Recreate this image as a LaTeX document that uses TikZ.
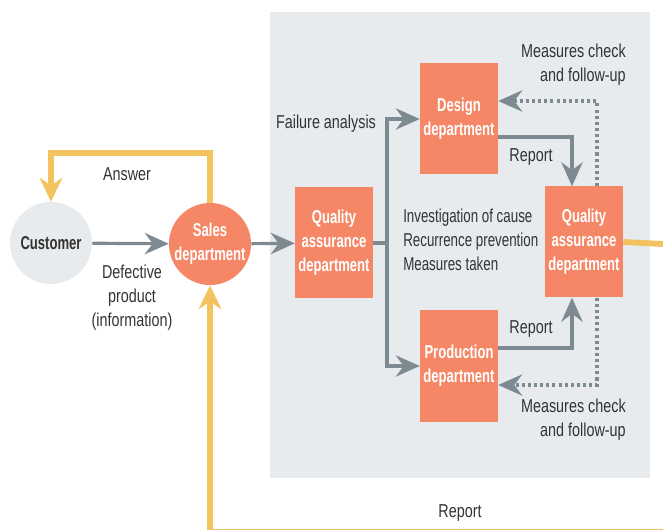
\documentclass[tikz,border=0pt]{standalone}
\usepackage{fontspec}
\setmainfont[FakeStretch=0.77]{Liberation Sans}
\newfontfamily\boxfont[FakeStretch=0.70]{Liberation Sans Bold}
\newfontfamily\narrowfont[FakeStretch=0.715]{Liberation Sans}
\usetikzlibrary{arrows.meta,calc}
\definecolor{panel}{HTML}{E8EBEE}
\definecolor{salmon}{HTML}{F58767}
\definecolor{ygold}{HTML}{F3C35F}
\definecolor{garr}{HTML}{7D8A91}
\definecolor{txt}{HTML}{333333}
\tikzset{
  lbl/.style={text=txt,font=\fontsize{14}{18}\selectfont,inner sep=0pt,align=center},
  bfnt/.style={font=\fontsize{14}{18}\selectfont\boxfont},
  dept/.style={fill=salmon,text=white,bfnt,align=center,
    minimum width=58.5pt,minimum height=83.25pt,inner sep=0pt},
  gtip/.style={-{Stealth[length=18pt,width=16pt,inset=6pt]}},
  gline/.style={draw=garr,line width=2.4pt},
  garrow/.style={gline,gtip},
  dotarrow/.style={draw=garr,line width=2.4pt,dash pattern=on 2.3pt off 2.3pt,gtip},
  yline/.style={draw=ygold,line width=4.4pt},
  yarrow/.style={yline,-{Stealth[length=18pt,width=17pt,inset=6pt]}},
}
\begin{document}
\begin{tikzpicture}[x=0.75pt,y=-0.75pt]
\useasboundingbox (0,0) rectangle (663,530);
\clip (0,0) rectangle (663,530);
\fill[panel] (270,12) rectangle (650,478);
% nodes
\node[circle,fill=panel,minimum size=61.5pt,inner sep=0pt,text=txt,bfnt] (cust) at (51,243) {Customer};
\node[circle,fill=salmon,minimum size=60.75pt,inner sep=0pt,text=white,align=center,bfnt] (sales) at (210,244) {Sales\\department};
\node[dept] (qa1) at (334,243) {Quality\\assurance\\department};
\node[dept] (design) at (459,119) {Design\\department};
\node[dept] (prod) at (459,366) {Production\\department};
\node[dept] (qa2) at (584,242) {Quality\\assurance\\department};
% coordinates
\coordinate (ans) at (128,153);
\coordinate (split) at (387,243);
\coordinate (bot) at (210,532);
\coordinate (botr) at (663,532);
\coordinate (rgt) at (663,244);
% connectors
\draw[garrow] (cust) -- (sales);
\draw[yarrow] (sales.north) |- (ans) -| (cust.north);
\draw[yarrow] (botr) -- (bot) -- (sales.south);
\draw[garrow] (sales) -- (qa1);
\draw[gline] (qa1.east) -- (split);
\draw[garrow] (split) |- (design.west);
\draw[garrow] (split) |- (prod.west);
\draw[garrow] ([yshift=-13.5pt]design.east) -| ([xshift=-9pt]qa2.north);
\draw[garrow] ([yshift=13.5pt]prod.east) -| ([xshift=-9pt]qa2.south);
\draw[dotarrow] ([xshift=9.75pt]qa2.north) |- ([yshift=13.5pt]design.east);
\draw[dotarrow] ([xshift=9.75pt]qa2.south) |- ([yshift=-14.25pt]prod.east);
\draw[yline] (qa2.east) -- (rgt);
% labels
\node[lbl] (lans) at (127,174) {Answer};
\node[lbl] (ldef) at (132,298) {Defective\\product\\(information)};
\node[lbl] (lfail) at (326,124) {Failure analysis};
\node[lbl,font=\fontsize{14}{18}\selectfont\narrowfont,align=left,anchor=west] (linv) at (403,240) {Investigation of cause\\Recurrence prevention\\Measures taken};
\node[lbl] (lrep1) at (531,157) {Report};
\node[lbl] (lrep2) at (531,329) {Report};
\node[lbl] (lrep3) at (460,513) {Report};
\node[lbl,align=right,anchor=east] (lmc1) at (626,65) {Measures check\\and follow-up};
\node[lbl,align=right,anchor=east] (lmc2) at (626,420) {Measures check\\and follow-up};
\end{tikzpicture}
\end{document}
